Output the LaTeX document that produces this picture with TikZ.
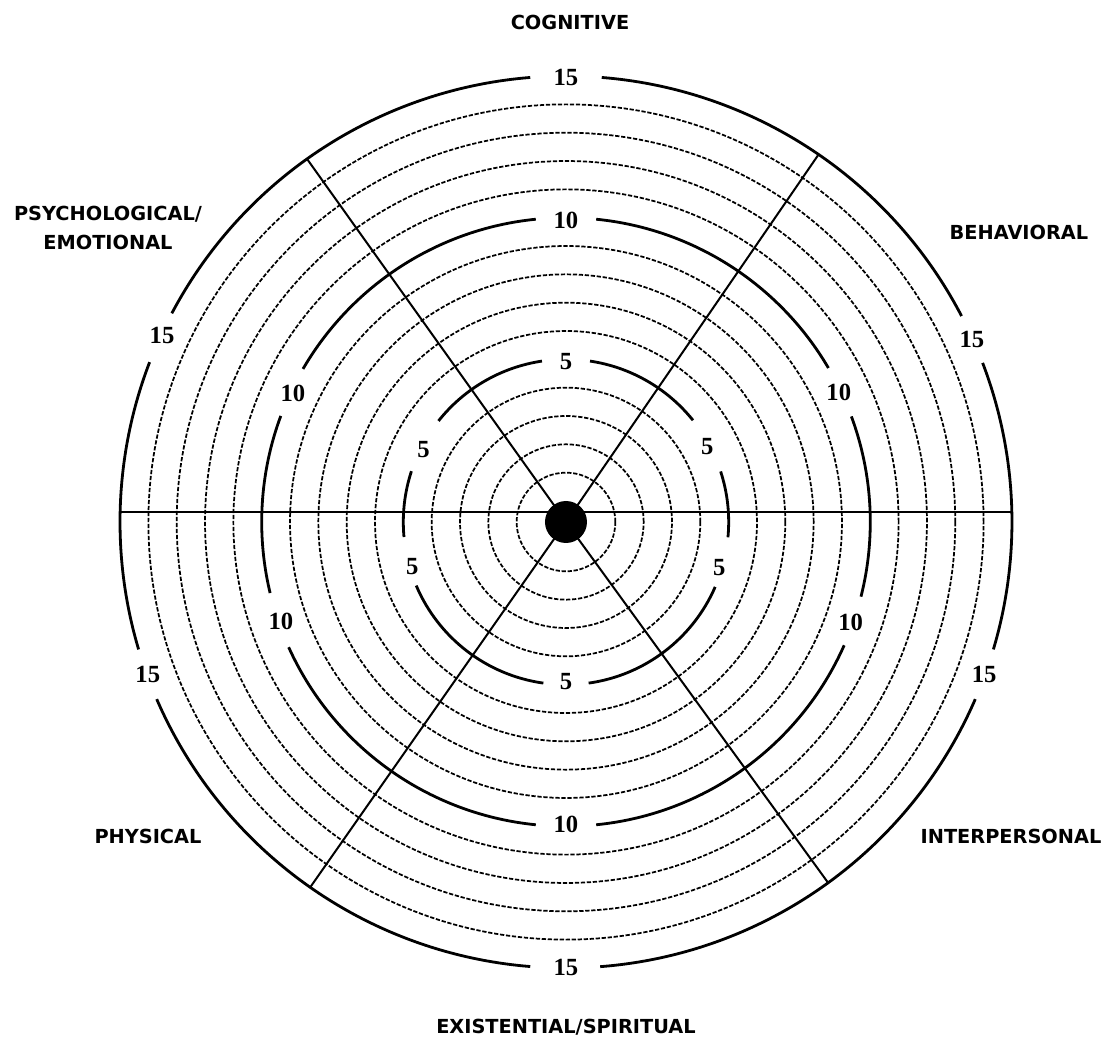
\documentclass[tikz,border=0pt]{standalone}
\usepackage{fontspec}
\newfontfamily\sectorfont{DejaVu Sans}
\newfontfamily\scorefont{Liberation Serif}

\begin{document}
\begin{tikzpicture}[x=0.75pt,y=0.75pt,
  ring/.style={line width=1.3pt, dash pattern=on 3.2pt off 1.3pt},
  mainring/.style={line width=2.1pt},
  spoke/.style={line width=1.5pt},
  sector/.style={font=\sectorfont\bfseries\fontsize{14.5}{21.5}\selectfont, align=center, inner sep=0pt},
  score/.style={font=\scorefont\bfseries\fontsize{18.5}{20}\selectfont, inner sep=0pt}]
\fill[white] (-566,-517) rectangle (545,522);
\useasboundingbox (-566,-517) rectangle (545,522);

% dashed rings
\foreach \k in {1,2,3,4,6,7,8,9,11,12,13,14}
  \draw[ring] (0,0) circle ({21+28.33*\k});

% solid ring 5
\foreach \s/\e in {38.7/81.5, 98.5/141.6, 161.8/185.3, 203/262, 278/336.5, 354.6/378.1}
  \draw[mainring] (\s:162.7) arc[start angle=\s, end angle=\e, radius=162.7];
% solid ring 10
\foreach \s/\e in {30.4/84.3, 95.7/149.8, 159.6/193.5, 204.3/264.3, 275.7/336.1, 345.8/380.3}
  \draw[mainring] (\s:304.3) arc[start angle=\s, end angle=\e, radius=304.3];
% solid ring 15
\foreach \s/\e in {27.5/85.4, 94.6/152.1, 159/196.6, 203.4/265.4, 274.4/336.6, 343.4/380.9}
  \draw[mainring] (\s:446) arc[start angle=\s, end angle=\e, radius=446];

% scores
\foreach \a [count=\i] in {90,153,196,270,343.5,28}
  \node[score] (five\i) at (\a:160) {5};
\foreach \a [count=\i] in {90,154.7,199.3,270,340.5,25.4}
  \node[score] (ten\i) at (\a:302) {10};
\foreach \a [count=\i] in {90,155.2,200,270,340,24.2}
  \node[score] (fifteen\i) at (\a:445) {15};

% spokes
\coordinate (c) at (0,0);
\coordinate (w) at (-446,10);
\coordinate (e) at (446,10);
\draw[spoke] (w) -- (e);
\draw[spoke] (c) -- (55.5:446);
\draw[spoke] (c) -- (125.5:446);
\draw[spoke] (c) -- (235:446);
\draw[spoke] (c) -- (306:446);
\fill (c) circle (21);

% sectors
\node[sector] (cog) at (4,500) {COGNITIVE};
\node[sector] (beh) at (453,290) {BEHAVIORAL};
\node[sector] (psy) at (-458,294) {PSYCHOLOGICAL/\\EMOTIONAL};
\node[sector] (phy) at (-418,-314) {PHYSICAL};
\node[sector] (int) at (445,-314) {INTERPERSONAL};
\node[sector] (exi) at (0,-505) {EXISTENTIAL/SPIRITUAL};
\end{tikzpicture}
\end{document}
